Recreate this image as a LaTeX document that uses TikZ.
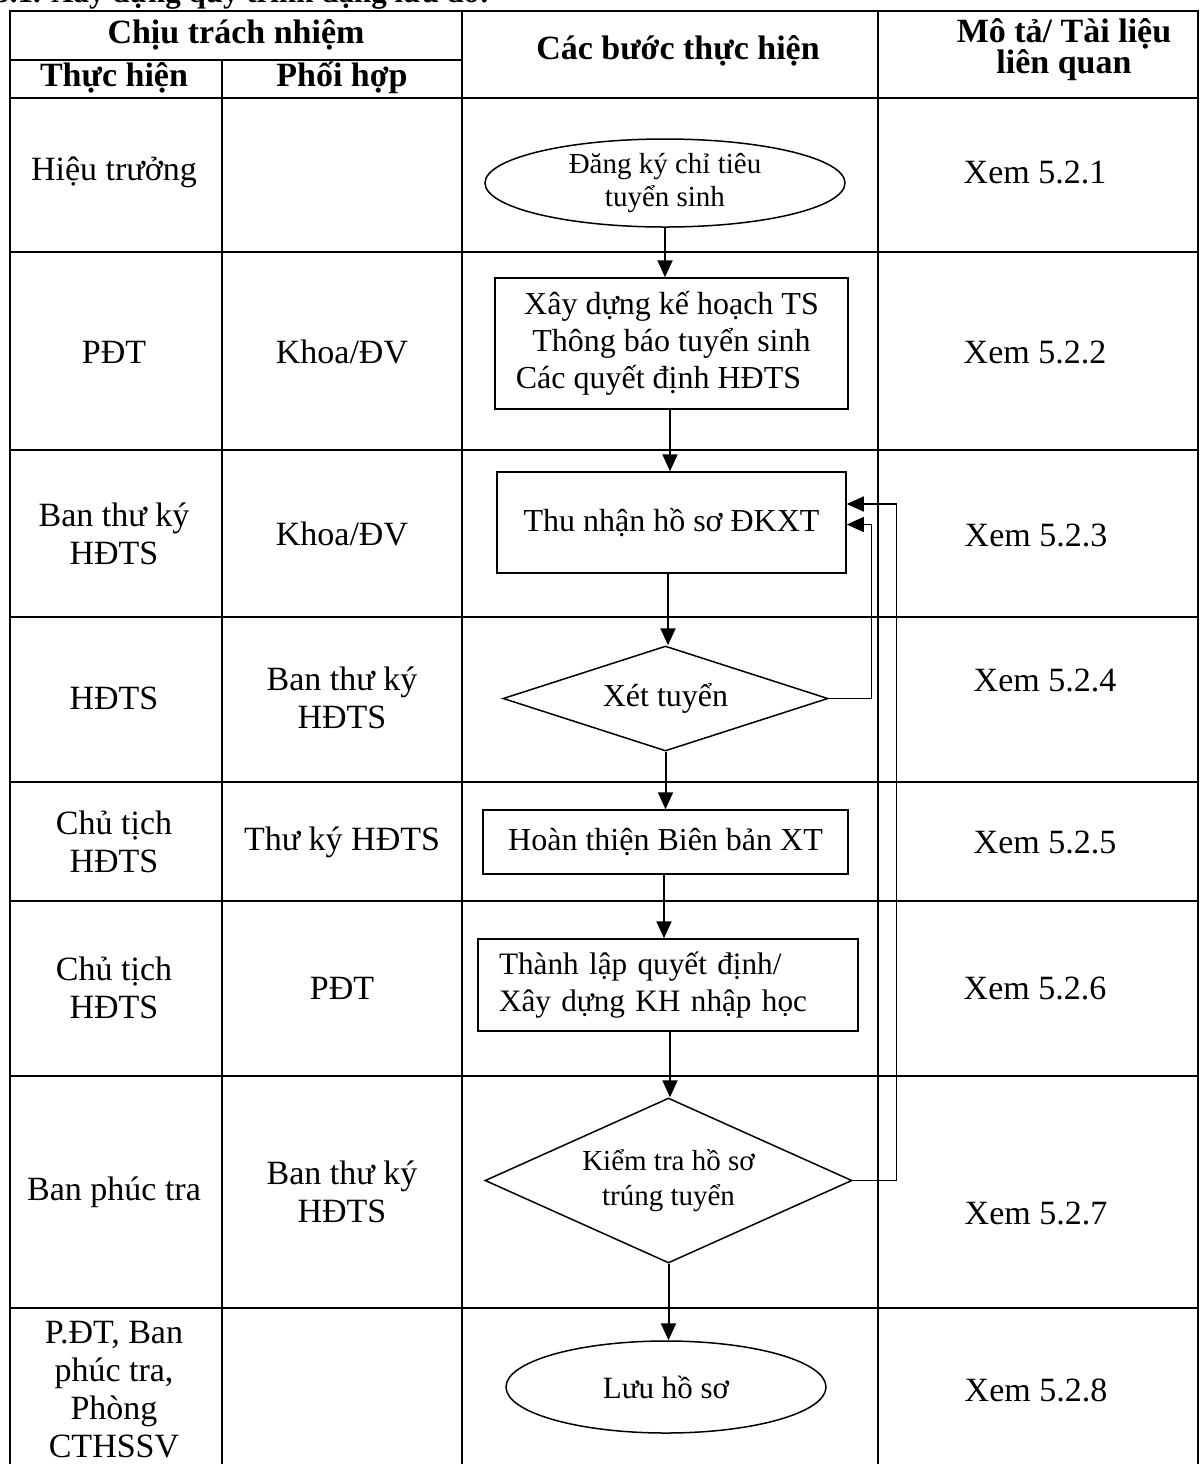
\documentclass[tikz,border=0pt]{standalone}
\usepackage{fontspec}
\setmainfont{Liberation Serif}
\usetikzlibrary{shapes.geometric,arrows.meta}
\begin{document}
\begin{tikzpicture}[x=0.5pt,y=-0.5pt,
  grid/.style={line width=1pt},
  cell/.style={font=\fontsize{17}{19}\selectfont, align=center, inner sep=0},
  head/.style={font=\bfseries\fontsize{17}{15.5}\selectfont, align=center, inner sep=0},
  flowbox/.style={draw, line width=0.75pt, font=\fontsize{16}{18.5}\selectfont, align=center, inner sep=0},
  flowell/.style={draw, ellipse, line width=0.75pt, font=\fontsize{14.5}{16.5}\selectfont, align=center, inner sep=0},
  flowdia/.style={draw, diamond, line width=0.75pt, align=center, inner sep=0},
  arr/.style={line width=1pt, -{Triangle[length=8.5pt,width=7.5pt]}},
  back/.style={line width=0.7pt, -{Triangle[length=8.5pt,width=7.5pt]}}
]
\useasboundingbox (0,0) rectangle (1200,1464);

% title (cut by the top edge)
\node[anchor=base west, font=\bfseries\fontsize{15.5}{17}\selectfont, inner sep=0] (title) at (-6,2) {5.1. Xây dựng quy trình dạng lưu đồ:};

% table grid
\draw[grid] (10,11) rectangle (1198,1480);
\foreach \yy in {98,252,450,617,782,901,1076,1308} \draw[grid] (10,\yy) -- (1198,\yy);
\draw[grid] (10,60) -- (462,60);
\draw[grid] (222,60) -- (222,1480);
\draw[grid] (462,11) -- (462,1480);
\draw[grid] (878,11) -- (878,1480);

% headers
\node[head] (h1) at (236,35) {Chịu trách nhiệm};
\node[head] (h2) at (114,78) {Thực hiện};
\node[head] (h3) at (342,78) {Phối hợp};
\node[head] (h4) at (678,51) {Các bước thực hiện};
\node[head] (h5) at (1064,50) {Mô tả/ Tài liệu\\liên quan};

% column 1
\node[cell] (c11) at (114,172) {Hiệu trưởng};
\node[cell] (c21) at (114,352) {PĐT};
\node[cell] (c31) at (114,534) {Ban thư ký\\HĐTS};
\node[cell] (c41) at (114,698) {HĐTS};
\node[cell] (c51) at (114,842) {Chủ tịch\\HĐTS};
\node[cell] (c61) at (114,988) {Chủ tịch\\HĐTS};
\node[cell] (c71) at (114,1192) {Ban phúc tra};
\node[cell] (c81) at (114,1390) {P.ĐT, Ban\\phúc tra,\\Phòng\\CTHSSV};

% column 2
\node[cell] (c22) at (342,352) {Khoa/ĐV};
\node[cell] (c32) at (342,534) {Khoa/ĐV};
\node[cell] (c42) at (342,698) {Ban thư ký\\HĐTS};
\node[cell] (c52) at (342,842) {Thư ký HĐTS};
\node[cell] (c62) at (342,988) {PĐT};
\node[cell] (c72) at (342,1192) {Ban thư ký\\HĐTS};

% column 4
\node[cell] (c14) at (1035,172) {Xem 5.2.1};
\node[cell] (c24) at (1035,352) {Xem 5.2.2};
\node[cell] (c34) at (1036,535) {Xem 5.2.3};
\node[cell] (c44) at (1045,680) {Xem 5.2.4};
\node[cell] (c54) at (1045,842) {Xem 5.2.5};
\node[cell] (c64) at (1035,988) {Xem 5.2.6};
\node[cell] (c74) at (1036,1213) {Xem 5.2.7};
\node[cell] (c84) at (1036,1390) {Xem 5.2.8};

% flow
\node[flowell, minimum width=180pt, minimum height=44pt] (e1) at (665,183) {Đăng ký chỉ tiêu\\tuyển sinh};
\node[flowbox, minimum width=176.5pt, minimum height=65.5pt] (b2) at (671.5,343.5) {Xây dựng kế hoạch TS\\Thông báo tuyển sinh\\Các quyết định HĐTS\hspace*{13pt}};
\node[flowbox, minimum width=174.5pt, minimum height=50.5pt] (b3) at (671.5,522.5) {Thu nhận hồ sơ ĐKXT};
\node[flowdia, minimum width=162.5pt, minimum height=52.5pt, aspect=3.1, font=\fontsize{16}{18.5}\selectfont] (d4) at (665.5,698.5) {Xét tuyển};
\node[flowbox, minimum width=182.5pt, minimum height=32pt] (b5) at (665.5,842) {Hoàn thiện Biên bản XT};
\node[flowbox, text width=169pt, inner xsep=10.5pt, align=left, minimum height=46pt, font=\fontsize{15.6}{18.5}\selectfont] (b6) at (668,985) {Thành lập quyết định/\\Xây dựng KH nhập học};
\node[flowdia, minimum width=183.5pt, minimum height=82.5pt, aspect=2.2, font=\fontsize{14.5}{17.5}\selectfont] (d7) at (668.5,1180.5) {Kiểm tra hồ sơ\\trúng tuyển};
\node[flowell, minimum width=160pt, minimum height=46pt, font=\fontsize{15.5}{17}\selectfont] (e8) at (666,1387) {Lưu hồ sơ};

% connectors
\draw[arr] (e1.south) -- (e1.south |- b2.north);
\draw[arr] ([xshift=-0.75pt]b2.south) -- ([xshift=-0.75pt]b2.south |- b3.north);
\draw[arr] ([xshift=-1.75pt]b3.south) -- ([xshift=-1.75pt]b3.south |- d4.north);
\draw[arr] (d4.south) -- (d4.south |- b5.north);
\draw[arr] ([xshift=-0.75pt]b5.south) -- ([xshift=-0.75pt]b5.south |- b6.north);
\draw[arr] ([xshift=1pt]b6.south) -- ([xshift=1pt]b6.south |- d7.north);
\draw[arr] (d7.south) -- (d7.south |- e8.north);

\draw[back] (d4.east) -- ++(43,0) |- ([yshift=-1pt]b3.east);
\draw[back] (d7.east) -- ++(44,0) |- ([yshift=9.25pt]b3.east);
\end{tikzpicture}
\end{document}
